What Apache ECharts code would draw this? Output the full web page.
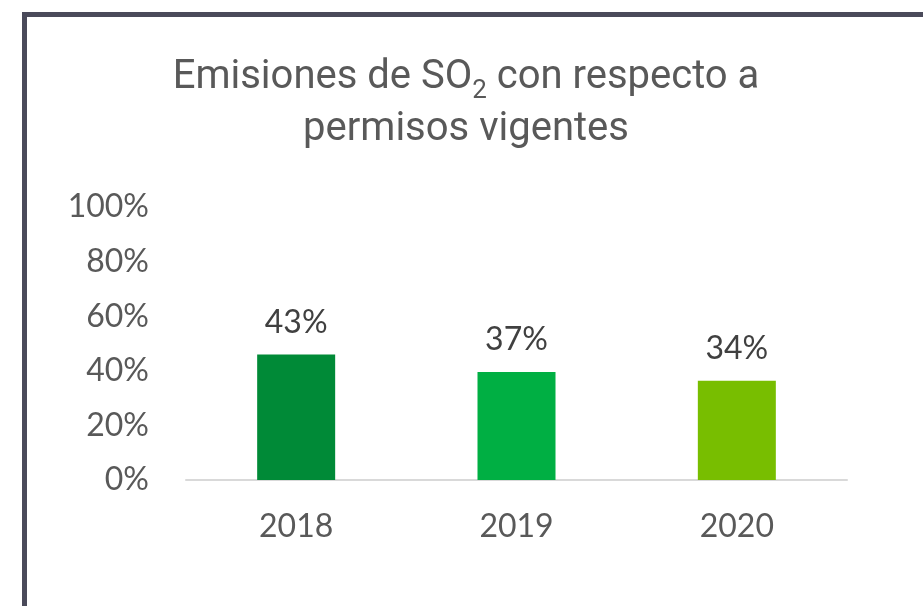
<!DOCTYPE html>
<html>
<head>
<meta charset="utf-8">
<script src="https://cdn.jsdelivr.net/npm/echarts@6/dist/echarts.min.js"></script>
<style>
  html, body { margin: 0; padding: 0; background: #fff; }
  #chart { width: 923px; height: 606px; }
</style>
</head>
<body>
<div id="chart"></div>
<script>
// datos
var years = ['2018', '2019', '2020'];
var emisiones = [43, 37, 34];          // % con respecto a permisos vigentes
var yTicks = [0, 20, 40, 60, 80, 100];
var barColors = ['#008A37', '#00AF43', '#78BE00'];

var myChart = echarts.init(document.getElementById('chart'));

myChart.setOption({
    backgroundColor: '#ffffff',
    animation: false,
    title: {
        text: '{a|Emisiones de SO}{s|2}{a| con respecto a}\n{a|permisos vigentes}',
        left: 466,
        top: 52,
        padding: 0,
        textAlign: 'center',
        textStyle: {
            fontWeight: 'normal',
            rich: {
                a: { fontFamily: 'Roboto', fontWeight: 'normal', fontSize: 40, lineHeight: 52, color: '#595959' },
                s: { fontFamily: 'Roboto', fontWeight: 'normal', fontSize: 26, lineHeight: 26, color: '#595959', verticalAlign: 'bottom' }
            }
        }
    },
    graphic: [
        { type: 'rect', shape: { x: 22, y: 12, width: 901, height: 5 }, style: { fill: '#4a4a5a' } },
        { type: 'rect', shape: { x: 22, y: 12, width: 5, height: 594 }, style: { fill: '#4a4a5a' } }
    ],
    grid: { left: 186, right: 76, top: 207, bottom: 126 },
    xAxis: {
        type: 'category',
        data: years,
        axisLine: { show: true, lineStyle: { color: '#d9d9d9', width: 2 } },
        axisTick: { show: false },
        axisLabel: { color: '#595959', fontFamily: 'Lato', fontSize: 32, lineHeight: 32, margin: 31 }
    },
    yAxis: [
        {
            // escala visible
            type: 'value',
            min: yTicks[0],
            max: yTicks[yTicks.length - 1],
            interval: 20,
            axisLine: { show: false },
            axisTick: { show: false },
            splitLine: { show: false },
            axisLabel: { formatter: '{value}%', color: '#595959', fontFamily: 'Lato', fontSize: 32, margin: 37 }
        },
        {
            // escala de las barras (en el original las barras quedan algo mas altas que su etiqueta)
            type: 'value',
            show: false,
            min: 0,
            max: 93.5
        }
    ],
    series: [
        {
            type: 'bar',
            yAxisIndex: 1,
            barWidth: 78,
            data: emisiones.map(function (v, i) {
                return { value: v, itemStyle: { color: barColors[i] } };
            }),
            label: {
                show: true,
                position: 'top',
                distance: 16,
                formatter: '{c}%',
                color: '#404040',
                fontFamily: 'Lato',
                fontSize: 32,
                lineHeight: 32
            }
        }
    ]
});
</script>
</body>
</html>
